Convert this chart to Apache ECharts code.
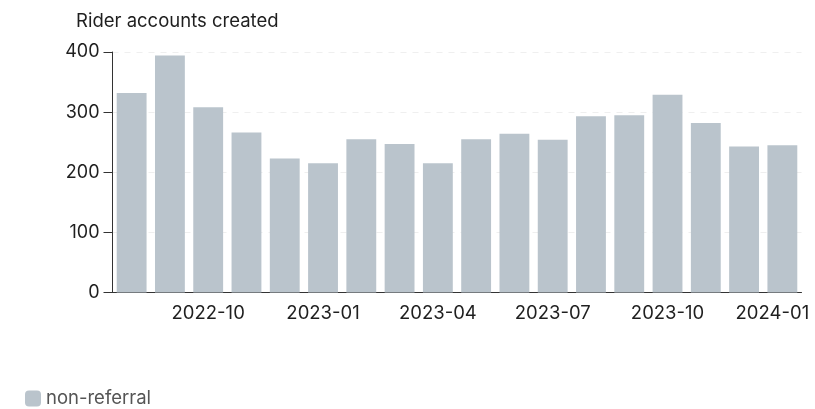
<!DOCTYPE html>
<html>
<head>
<meta charset="utf-8">
<script src="https://cdn.jsdelivr.net/npm/echarts@6/dist/echarts.min.js"></script>
<style>
  html, body { margin: 0; padding: 0; background: #ffffff; }
  #chart { width: 815px; height: 409px; }
</style>
</head>
<body>
<div id="chart"></div>
<script>
// Monthly rider account sign-ups, non-referral channel
const months = [
  '2022-08', '2022-09', '2022-10', '2022-11', '2022-12', '2023-01',
  '2023-02', '2023-03', '2023-04', '2023-05', '2023-06', '2023-07',
  '2023-08', '2023-09', '2023-10', '2023-11', '2023-12', '2024-01'
];
const nonReferral = [
  332, 394, 308, 266, 223, 215,
  255, 247, 215, 255, 264, 254,
  293, 295, 329, 282, 243, 245
];
const yTicks = [0, 100, 200, 300, 400];

const FONT = 'Inter, "Noto Sans", sans-serif';
const chart = echarts.init(document.getElementById('chart'), null, { renderer: 'canvas' });

chart.setOption({
  animation: false,
  backgroundColor: '#ffffff',
  title: {
    text: 'Rider accounts created',
    left: 71,
    top: 7,
    textStyle: { fontFamily: FONT, fontSize: 18.5, fontWeight: 'normal', color: '#1f1f1f' }
  },
  legend: {
    left: 20,
    bottom: -4,
    icon: 'roundRect',
    itemWidth: 16,
    itemHeight: 16,
    itemGap: 9,
    textStyle: { fontFamily: FONT, fontSize: 18.5, color: '#555555' },
    data: ['non-referral']
  },
  grid: { left: 112.5, right: 13.5, top: 52, bottom: 116.5, containLabel: false },
  xAxis: {
    type: 'category',
    data: months,
    axisLine: { show: true, lineStyle: { color: '#333333', width: 1 } },
    axisTick: { show: false },
    axisLabel: {
      fontFamily: FONT,
      fontSize: 18.5,
      color: '#1f1f1f',
      margin: 11,
      interval: (idx) => idx % 3 === 2,
      formatter: (val, idx) => idx === months.length - 1 ? '{last|' + val + '}' : val,
      rich: {
        last: { fontFamily: FONT, fontSize: 18.5, color: '#1f1f1f', padding: [0, 20, 0, 0] }
      }
    },
    splitLine: { show: false }
  },
  yAxis: {
    type: 'value',
    min: yTicks[0],
    max: yTicks[yTicks.length - 1],
    interval: 100,
    axisLine: { show: true, lineStyle: { color: '#333333', width: 1 } },
    axisTick: { show: true, length: 9, lineStyle: { color: '#333333' } },
    axisLabel: { fontFamily: FONT, fontSize: 18, color: '#1f1f1f', margin: 13 },
    splitLine: { show: true, lineStyle: { color: '#efefef', type: [6, 6], width: 1 } }
  },
  series: [{
    name: 'non-referral',
    type: 'bar',
    data: nonReferral,
    barCategoryGap: '22%',
    itemStyle: { color: '#bac4cc' }
  }]
});
</script>
</body>
</html>
